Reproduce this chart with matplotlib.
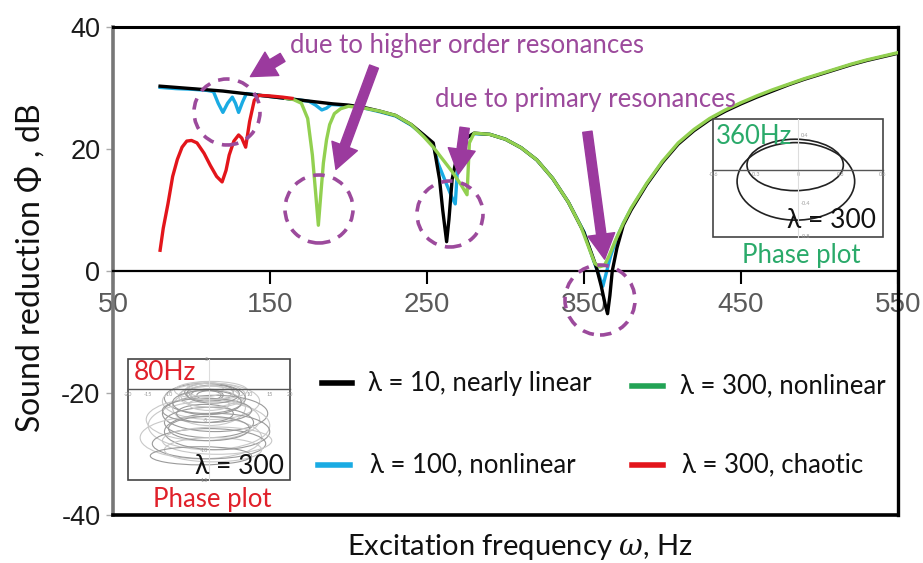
import matplotlib
matplotlib.use('Agg')
import matplotlib.pyplot as plt
from matplotlib.patches import Ellipse, Rectangle, FancyArrowPatch
from matplotlib.lines import Line2D

plt.rcParams['font.family'] = ['Lato', 'DejaVu Sans']
plt.rcParams['mathtext.fontset'] = 'custom'
plt.rcParams['mathtext.it'] = 'DejaVu Serif:italic'
plt.rcParams['mathtext.rm'] = 'Lato'
plt.rcParams['axes.unicode_minus'] = False

# ---------------- data ----------------
x_ticks = [50, 150, 250, 350, 450, 550]
y_ticks = [-40, -20, 0, 20, 40]

freq_black = [80, 90, 100, 110, 120, 130, 140, 150, 160, 170, 180, 190, 200, 210, 220, 230,
              240, 248, 254, 258, 260, 262.5, 264, 266, 268, 270, 275, 280, 290, 300, 310,
              320, 330, 340, 343, 350, 356, 358, 361, 363.5, 365, 366.5, 368, 371, 375, 380,
              390, 400, 410, 420, 430, 440, 450, 460, 470, 480, 490, 500, 510, 520, 530,
              540, 550]
sr_black = [30.3, 30.1, 29.9, 29.7, 29.5, 29.2, 28.9, 28.6, 28.3, 28.0, 27.7, 27.4, 27.2,
            26.8, 26.2, 25.5, 24.0, 22.3, 21.0, 15.0, 10.0, 4.8, 8.5, 15.0, 17.5, 19.3, 21.8,
            22.6, 22.4, 21.6, 20.2, 18.2, 15.2, 11.3, 9.8, 6.3, 2.0, 0.5, -2.5, -5.5, -7.0,
            -4.0, 0.0, 3.8, 7.5, 10.0, 14.2, 17.8, 20.8, 23.0, 24.8, 26.2, 27.4, 28.5, 29.5,
            30.5, 31.4, 32.2, 33.0, 33.8, 34.5, 35.1, 35.7]

freq_blue = [80, 90, 100, 110, 114, 117, 120, 123, 126, 128, 130, 132.5, 135, 140, 150, 160,
             170, 175, 179, 183, 186, 189, 195, 200, 210, 220, 230, 240, 248, 254, 257, 262,
             266, 268, 269.5, 271, 275, 280, 290, 300, 310, 320, 330, 340, 350, 356, 360,
             362, 364, 367, 371, 375, 380, 390, 400]
sr_blue = [30.1, 29.9, 29.8, 29.6, 29.4, 27.5, 26.0, 27.5, 28.5, 27.5, 26.0, 27.7, 29.1, 28.9,
           28.6, 28.3, 28.0, 27.8, 27.2, 26.4, 26.7, 27.3, 27.2, 27.1, 26.7, 26.1, 25.4, 23.9,
           22.2, 20.6, 17.7, 14.5, 12.0, 11.0, 17.0, 20.5, 21.8, 22.5, 22.4, 21.6, 20.2,
           18.2, 15.2, 11.3, 6.4, 1.8, -1.0, -2.5, -0.5, 2.5, 5.5, 7.8, 10.2, 14.3, 17.9]

freq_green = [160, 165, 170, 174, 177, 179, 180.8, 182.5, 184, 186, 188, 191, 195, 200, 210,
              220, 230, 240, 248, 254, 260, 266, 272, 275.5, 277, 280, 290, 300, 310, 320,
              330, 340, 348, 354, 357, 360, 363, 366, 370, 375, 380, 390, 400, 410, 420, 430,
              440, 450, 460, 470, 480, 490, 500, 510, 520, 530, 540, 550]
sr_green = [28.3, 28.1, 27.5, 25.0, 19.0, 13.0, 7.5, 13.0, 17.7, 21.5, 24.0, 25.8, 26.6, 27.0,
            26.7, 26.2, 25.5, 24.0, 22.0, 20.3, 18.3, 16.3, 14.0, 12.5, 21.0, 22.6, 22.4,
            21.6, 20.2, 18.2, 15.2, 11.3, 7.3, 3.2, 1.2, 0.7, 0.9, 2.5, 5.0, 7.8, 10.3,
            14.4, 18.0, 21.0, 23.2, 25.0, 26.4, 27.6, 28.7, 29.7, 30.6, 31.5, 32.3, 33.1,
            33.9, 34.6, 35.2, 35.8]

freq_red = [80, 82, 85, 88, 91, 94, 97, 100, 103.5, 108, 112, 116, 119.5, 122, 124, 127, 130,
            132, 134.5, 137, 140, 143, 150, 158, 164]
sr_red = [3.4, 7.0, 11.0, 15.5, 18.3, 20.3, 21.3, 21.4, 21.0, 19.3, 17.3, 15.5, 14.6, 16.5,
          19.0, 21.3, 22.3, 21.8, 20.3, 24.5, 28.0, 28.8, 28.7, 28.5, 28.3]

legend_labels = ['λ = 10, nearly linear', 'λ = 300, nonlinear',
                 'λ = 100, nonlinear', 'λ = 300, chaotic']

# inset phase-plot loops (360 Hz, period-2 orbit): centre x, centre y, width, height
orbit_cx = [-0.02, -0.015]
orbit_cy = [0.055, -0.14]
orbit_w = [0.68, 0.83]
orbit_h = [0.61, 0.92]
inset1_yticks = [0.4, -0.4, -0.8]

# inset chaotic loops (80 Hz)
loop_cx = [0, 1, -1, 0.5, -0.5, 0, 1.5, -1.5, 0, 0, 2, -2, 0, 1, -1, 0, 0, 0.5, -0.5,
           -1, 1, 0, -0.5, 0.5, 0, 2, -2]
loop_cy = [-0.5, -1, -1.5, -2, -1, -3, -4, -5, -5.5, -6, -7, -8, -9, -10, -4, -2.5, -1, -0.2,
           -3.5, 0, -0.8, -1.2, -2.2, -0.6, -6.5, -8.5, -11]
loop_w = [12, 16, 20, 24, 8, 18, 26, 28, 22, 30, 26, 30, 28, 24, 14, 10, 6, 18, 22,
          9, 13, 15, 17, 11, 20, 27, 25]
loop_h = [3, 4, 5, 6, 2, 6, 6, 7, 5, 8, 6, 7, 5, 4, 3, 2, 1.5, 3, 4,
          2.5, 3, 3.5, 4, 2.2, 4, 4.5, 3]

# ---------------- colours ----------------
C_BLACK = '#000000'
C_BLUE = '#1AABE3'
C_GREEN = '#92D050'
C_GREEN_DARK = '#22A355'
C_RED = '#E3151B'
C_PURPLE = '#9B3A9E'
C_PURPLE_TXT = '#9C4A9C'
C_TXT_GREEN = '#2AAA6A'
C_TXT_RED = '#E0202A'

W, H = 923, 563
fig = plt.figure(figsize=(W / 100, H / 100), dpi=100)


def fx(px):
    return px / W


def fy(py):
    return 1 - py / H


ax = fig.add_axes([fx(113), fy(515), fx(898) - fx(113), fy(27) - fy(515)])
ax.set_xlim(50, 550)
ax.set_ylim(-40, 40)

ax.plot(freq_blue, sr_blue, color=C_BLUE, lw=2.4, zorder=2, solid_joinstyle='round')
ax.plot(freq_black, sr_black, color=C_BLACK, lw=2.4, zorder=3, solid_joinstyle='round')
ax.plot(freq_green, sr_green, color=C_GREEN, lw=2.4, zorder=4, solid_joinstyle='round')
ax.plot(freq_red, sr_red, color=C_RED, lw=2.4, zorder=5, solid_joinstyle='round')

# spines
ax.spines['bottom'].set_position(('data', 0))
ax.spines['bottom'].set_linewidth(1.6)
ax.spines['top'].set_linewidth(2.2)
ax.spines['right'].set_linewidth(2.4)
ax.spines['left'].set_linewidth(2.6)
ax.spines['left'].set_color('#777777')
ax.plot([0, 1], [0, 0], transform=ax.transAxes, color='black', lw=2.6, clip_on=False, zorder=6)

ax.set_xticks(x_ticks)
ax.set_yticks(y_ticks)
ax.tick_params(axis='x', direction='out', length=9, width=1.5, color='black',
               labelsize=20, labelcolor='#5a5a5a', pad=6)
ax.tick_params(axis='y', direction='out', length=5, width=1, color='#aaaaaa',
               labelsize=19.5, labelcolor='#1a1a1a', pad=4)
for lbl in ax.get_xticklabels() + ax.get_yticklabels():
    lbl.set_fontfamily('Liberation Sans')

fig.text(fx(30), fy(268), 'Sound reduction $\\mathit{Φ}$ , dB', rotation=90, fontsize=23,
         ha='center', va='center', color='#111111')
fig.text(fx(520), fy(547), 'Excitation frequency $\\mathit{ω}$, Hz', fontsize=21,
         ha='center', va='center', color='#111111')

# annotations
fig.text(fx(290), fy(45), 'due to higher order resonances', fontsize=18.5, color=C_PURPLE_TXT,
         ha='left', va='center')
fig.text(fx(435), fy(100), 'due to primary resonances', fontsize=18.5, color=C_PURPLE_TXT,
         ha='left', va='center')

arrows = [((285, 56), (248, 78)), ((375, 64), (335, 172)),
          ((465, 125), (458, 177)), ((587, 129), (605, 262))]
for (tx, ty), (hx, hy) in arrows:
    a = FancyArrowPatch((tx, H - ty), (hx, H - hy), transform=None,
                        arrowstyle='simple,head_length=1.2,head_width=1.3,tail_width=0.45',
                        mutation_scale=15, color=C_PURPLE, zorder=10)
    fig.patches.append(a)

circles = [(227, 112, 33), (319, 209, 34), (450, 214, 33), (600, 300, 35)]
for cx, cy, r in circles:
    c = Ellipse((cx, H - cy), 2 * r, 2 * r, transform=None, fill=False, edgecolor=C_PURPLE_TXT,
                lw=2.6, linestyle=(0, (3.2, 2.4)), zorder=9)
    fig.patches.append(c)

# legend
leg = [((322, 352, 383), C_BLACK, 368, legend_labels[0]),
       ((632, 663, 386), C_GREEN_DARK, 680, legend_labels[1]),
       ((318, 350, 465), C_BLUE, 370, legend_labels[2]),
       ((632, 663, 465), C_RED, 682, legend_labels[3])]
for (x0, x1, yy), col, tx, lab in leg:
    fig.lines.append(Line2D([fx(x0), fx(x1)], [fy(yy), fy(yy)], transform=fig.transFigure,
                            color=col, lw=4))
    fig.text(fx(tx), fy(yy), lab, fontsize=18.5, ha='left', va='center', color='#111111',
             family=['Lato', 'Liberation Serif'])

# inset 1: 360 Hz phase plot
ai = fig.add_axes([fx(713), fy(237), fx(883) - fx(713), fy(119) - fy(237)])
ai.set_xlim(-0.6, 0.6)
ai.set_ylim(-0.8, 0.6)
for s in ['top', 'right']:
    ai.spines[s].set_visible(False)
ai.spines['bottom'].set_position(('data', 0))
ai.spines['left'].set_position(('data', 0))
ai.spines['bottom'].set_color('#555555')
ai.spines['bottom'].set_linewidth(1.0)
ai.spines['left'].set_color('#dddddd')
ai.set_xticks([-0.6, -0.3, 0, 0.3, 0.6])
ai.set_xticklabels(['-0.6', '-0.3', '0', '0.3', '0.6'])
ai.set_yticks([])
ai.tick_params(axis='x', labelsize=4, labelcolor='#999999', length=0, pad=2)
for v in inset1_yticks:
    ai.text(0.02, v, f'{v:g}', fontsize=4, color='#999999', ha='left', va='center')
ai.add_patch(Rectangle((0, 0), 1, 1, transform=ai.transAxes, fill=False, edgecolor='#444444',
                       lw=1.2, clip_on=False))
for cx, cy, w, h in zip(orbit_cx, orbit_cy, orbit_w, orbit_h):
    ai.add_patch(Ellipse((cx, cy), w, h, fill=False, edgecolor='#222222', lw=1.2))
ai.patch.set_alpha(0)
fig.text(fx(716), fy(136), '360Hz', fontsize=18.5, color=C_TXT_GREEN, ha='left', va='center')
fig.text(fx(876), fy(221), 'λ = 300', fontsize=19, color='#111111', ha='right', va='center',
         family=['Lato', 'Liberation Serif'])
fig.text(fx(801), fy(255), 'Phase plot', fontsize=18.5, color=C_TXT_GREEN, ha='center',
         va='center')

# inset 2: 80 Hz phase plot
aj = fig.add_axes([fx(128), fy(480), fx(290) - fx(128), fy(359) - fy(480)])
aj.set_xlim(-20, 20)
aj.set_ylim(-15, 5)
for s in ['top', 'right']:
    aj.spines[s].set_visible(False)
aj.spines['bottom'].set_position(('data', 0))
aj.spines['left'].set_position(('data', 0))
aj.spines['bottom'].set_color('#555555')
aj.spines['bottom'].set_linewidth(1.0)
aj.spines['left'].set_color('#dddddd')
aj.set_xticks([-20, -15, -10, -5, 5, 10, 15, 20])
aj.set_yticks([5, -5, -10, -15])
aj.tick_params(axis='x', labelsize=4, labelcolor='#999999', length=0, pad=2)
aj.tick_params(axis='y', labelsize=4, labelcolor='#999999', length=0, pad=1)
aj.add_patch(Rectangle((0, 0), 1, 1, transform=aj.transAxes, fill=False, edgecolor='#444444',
                       lw=1.2, clip_on=False))
for i, (cx, cy, w, h) in enumerate(zip(loop_cx, loop_cy, loop_w, loop_h)):
    col = '#9a9a9a' if i % 2 == 0 else '#c8c8c8'
    aj.add_patch(Ellipse((cx, cy), w, h, fill=False, edgecolor=col, lw=0.8))
aj.patch.set_alpha(0)
fig.text(fx(134), fy(372), '80Hz', fontsize=19, color=C_TXT_RED, ha='left', va='center')
fig.text(fx(284), fy(466), 'λ = 300', fontsize=19, color='#111111', ha='right', va='center',
         family=['Lato', 'Liberation Serif'])
fig.text(fx(212), fy(499), 'Phase plot', fontsize=18.5, color=C_TXT_RED, ha='center',
         va='center')

fig.savefig('out.png', dpi=100)
